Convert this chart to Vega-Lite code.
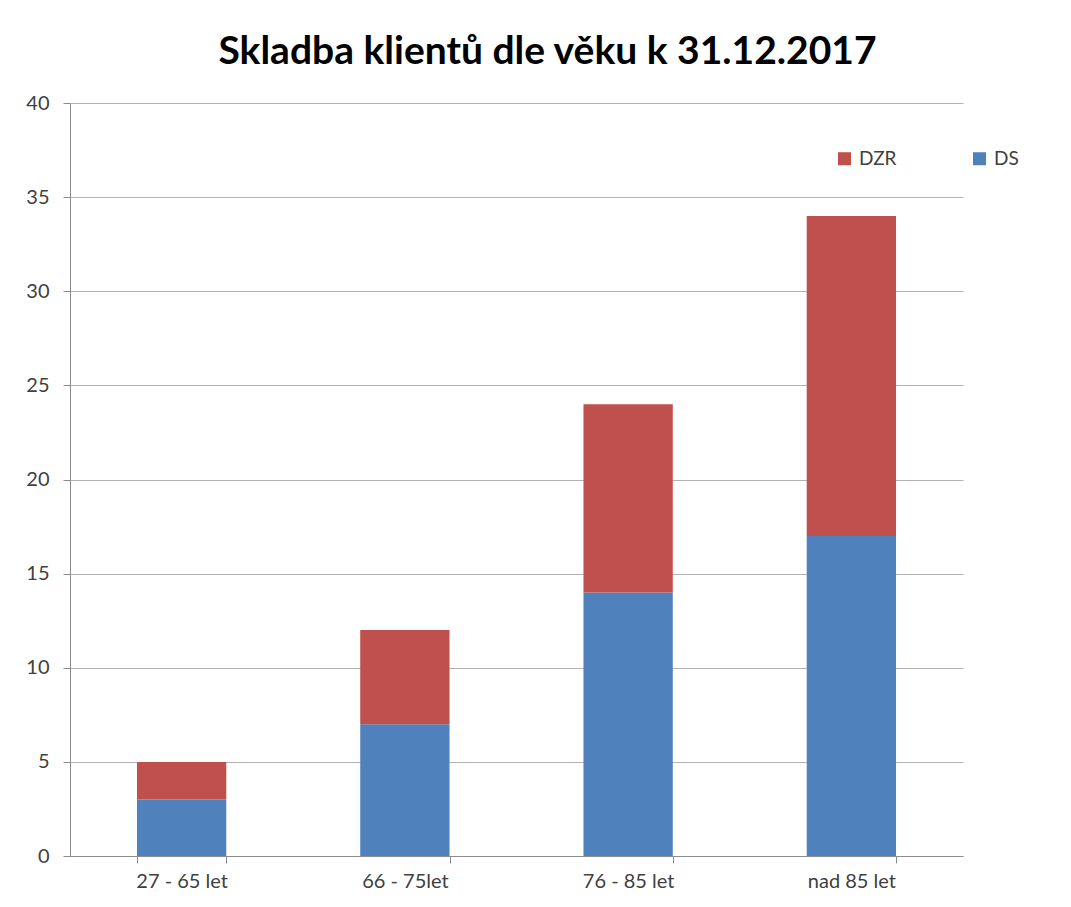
{
  "$schema": "https://vega.github.io/schema/vega-lite/v6.json",
  "width": 893,
  "height": 753,
  "autosize": {"type": "none"},
  "padding": {"left": 70, "top": 103, "right": 108, "bottom": 51},
  "background": "white",
  "title": {
    "text": "Skladba klientů dle věku k 31.12.2017",
    "font": "Lato",
    "fontSize": 39,
    "fontWeight": "bold",
    "color": "#000000",
    "anchor": "middle",
    "frame": "group",
    "dx": 31,
    "offset": 21
  },
  "data": {
    "values": [
      {"vek": "27 - 65 let", "typ": "DS", "pocet": 3},
      {"vek": "27 - 65 let", "typ": "DZR", "pocet": 2},
      {"vek": "66 - 75let", "typ": "DS", "pocet": 7},
      {"vek": "66 - 75let", "typ": "DZR", "pocet": 5},
      {"vek": "76 - 85 let", "typ": "DS", "pocet": 14},
      {"vek": "76 - 85 let", "typ": "DZR", "pocet": 10},
      {"vek": "nad 85 let", "typ": "DS", "pocet": 17},
      {"vek": "nad 85 let", "typ": "DZR", "pocet": 17}
    ]
  },
  "mark": {"type": "bar"},
  "encoding": {
    "x": {
      "field": "vek",
      "type": "nominal",
      "sort": null,
      "title": null,
      "scale": {"paddingInner": 0.6, "paddingOuter": 0.3},
      "axis": {
        "labelAngle": 0,
        "labelFont": "Lato",
        "labelFontSize": 20,
        "labelColor": "#404040",
        "labelPadding": 8,
        "domainColor": "#8c8c8c",
        "tickColor": "#8c8c8c",
        "tickBand": "extent",
        "tickSize": 7
      }
    },
    "y": {
      "field": "pocet",
      "type": "quantitative",
      "aggregate": "sum",
      "stack": "zero",
      "title": null,
      "scale": {"domain": [0, 40], "nice": false},
      "axis": {
        "values": [0, 5, 10, 15, 20, 25, 30, 35, 40],
        "labelFont": "Lato",
        "labelFontSize": 20,
        "labelColor": "#404040",
        "labelPadding": 14,
        "domainColor": "#8c8c8c",
        "tickColor": "#8c8c8c",
        "tickSize": 7,
        "gridColor": "#b3b3b3",
        "grid": true
      }
    },
    "color": {
      "field": "typ",
      "type": "nominal",
      "scale": {"domain": ["DZR", "DS"], "range": ["#C0504D", "#4F81BD"]},
      "legend": {
        "title": null,
        "orient": "none",
        "legendX": 765,
        "legendY": 46,
        "direction": "horizontal",
        "columns": 2,
        "columnPadding": 73,
        "symbolType": "square",
        "symbolSize": 170,
        "symbolStrokeWidth": 0,
        "labelFont": "Lato",
        "labelFontSize": 19,
        "labelColor": "#404040",
        "labelOffset": 5
      }
    },
    "order": {"field": "typ", "sort": "ascending"}
  },
  "config": {
    "view": {"stroke": null}
  }
}
